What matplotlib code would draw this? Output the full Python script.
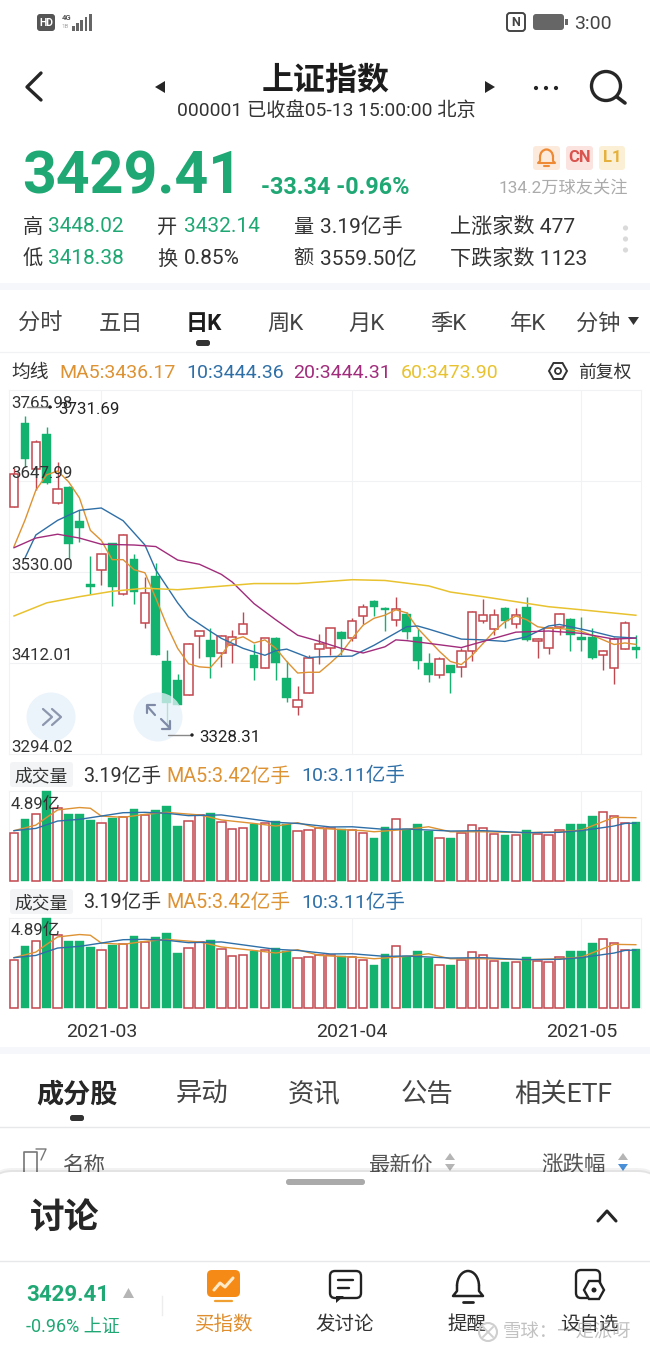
import matplotlib
matplotlib.use('Agg')
import matplotlib.pyplot as plt
from matplotlib.patches import Rectangle, Circle, FancyBboxPatch, Polygon, Arc

plt.rcParams['font.family'] = ['Roboto', 'Noto Sans CJK SC', 'DejaVu Sans']

opens = [3614,3723,3664,3709,3619,3640,3596,3515,3532,3567,3501,3547,3464,3525,3415,3390,3370,3447,3442,3425,
         3435,3450,3423,3406,3445,3393,3355,3373,3430,3432,3452,3445,3473,3492,3483,3468,3475,3446,3412,3396,
         3409,3407,3428,3467,3456,3483,3463,3484,3440,3432,3459,3469,3446,3446,3423,3406,3430,3432.14]
highs = [3665,3731.69,3701,3718,3673,3641,3610,3551,3553,3568,3579,3553,3524,3542,3429,3398,3438,3454,3457,3448,
         3455,3478,3437,3445,3446,3414,3382,3423,3450,3458,3453,3471,3489,3494,3484,3497,3478,3456,3425,3420,
         3410,3432,3479,3495,3482,3485,3483,3498,3444,3458,3477,3470,3472,3458,3429,3446,3467,3448.02]
lows = [3614,3666,3636,3644,3618,3548,3569,3501,3513,3486,3500,3488,3458,3422,3328.31,3357,3370,3418,3393,3407,
        3412,3449,3390,3405,3390,3362,3345,3373,3411,3423,3422,3440,3463,3473,3454,3460,3443,3404,3388,3393,
        3373,3394,3415,3464,3448,3457,3457,3440,3418,3424,3448,3427,3427,3417,3403,3385,3430,3418.38]
closes = [3657,3677,3698,3645,3638,3566,3587,3510,3553,3510,3578,3504,3503,3423,3360,3358,3437,3453,3420,3447,
          3446,3463,3405,3444,3412,3367,3364,3419,3436,3457,3443,3467,3485,3484,3481,3482,3452,3414,3396,3417,
          3399,3427,3478,3474,3474,3466,3474,3442,3443,3457,3476,3448,3442,3419,3428,3443,3464,3429.41]
volumes = [2.57,3.37,3.60,4.89,3.97,3.60,3.64,3.30,3.15,3.39,3.48,3.91,3.55,3.84,4.06,2.97,3.24,3.57,3.66,3.17,
           2.79,2.84,3.08,3.11,3.22,3.08,2.68,2.73,2.84,2.88,2.79,2.73,2.61,2.32,2.93,3.33,2.81,3.08,2.68,2.30,
           2.30,2.59,3.02,2.84,2.54,2.48,2.48,2.73,2.54,2.46,2.75,3.10,3.08,3.51,3.75,3.51,3.11,3.19]
ma5 = [3563,3597,3636,3656,3661,3647,3626,3584,3571,3546,3546,3533,3529,3496,3461,3431,3411,3407,3406,3422,
       3442,3446,3438,3442,3431,3414,3399,3400,3400,3412,3425,3444,3461,3470,3474,3481,3477,3457,3442,3427,
       3414,3410,3422,3437.5,3453,3465.5,3473,3468,3459,3457,3457,3455,3453,3448,3442,3436,3438,3436.17]
ma10_i = [1,2,4,6,8,10,12,13,15,16,18,19,21,23,24,25,27,28,31,33,36,37,38,41,43,45,47,49,50,53,55,57]
ma10 = [3548,3578,3597,3610,3613,3596.5,3565,3532.6,3490,3472,3453,3444,3431,3422,3428,3430,3419,3420,3421,3435,
        3459,3460,3456,3443,3442,3440,3446,3460,3462,3453,3446,3444.36]
ma20_i = [0,2,4,6,8,11,13,15,17,19,20,22,24,26,28,30,32,34,35,36,38,41,43,46,49,52,55,57]
ma20 = [3561.5,3574,3579,3574,3566,3565,3563,3545.5,3540,3527,3517,3489,3468,3448,3440,3431,3425,3433,3442,3441,
        3437.5,3432,3440,3452,3453.5,3450.5,3443,3444.31]
ma60_i = [0,3,6,9,12,15,18,22,26,31,34,38,40,43,46,49,52,57]
ma60 = [3473,3490,3498,3505,3509,3507,3510.5,3515,3515,3520,3519,3512,3504,3498,3491.5,3485,3481,3473.9]
vol_ma5_i = [0,2,3,4,6,7,8,10,12,14,15,17,19,22,24,26,28,32,33,36,38,40,43,47,50,52,54,55,57]
vol_ma5 = [2.72,3.02,3.44,3.84,3.97,3.93,3.51,3.44,3.60,3.71,3.66,3.57,3.30,3.11,2.97,3.15,2.84,2.72,2.66,2.79,
           2.93,2.66,2.66,2.61,2.66,2.75,3.21,3.44,3.42]
vol_ma10_i = [0,2,4,6,8,10,12,14,16,19,22,24,26,29,31,34,36,40,43,47,50,52,55,56,57]
vol_ma10 = [2.72,2.84,3.24,3.33,3.51,3.69,3.71,3.66,3.53,3.57,3.33,3.17,3.11,2.92,2.93,2.79,2.81,2.70,2.72,2.61,
            2.63,2.72,2.97,3.11,3.13]
price_ticks = [3412.01, 3530.00, 3647.99]
price_labels = ['3765.98', '3647.99', '3530.00', '3412.01', '3294.02']
date_idx = [8, 31, 52]
date_labels = ['2021-03', '2021-04', '2021-05']

GREEN = '#14B26F'; RED = '#C2474E'; GRID = '#F0F2F4'; DARK = '#262626'; TXTGREEN = '#1FA774'
ORANGE = '#DD9233'; BLUE = '#2F6FA7'; PURPLE = '#A12C7B'; YELLOW = '#E8C22F'
W, H = 650, 1351
fig = plt.figure(figsize=(6.5, 13.51), dpi=100, facecolor='white')
XLIM = (-0.458, 57.47)

def axes_px(x0, x1, ytop, ybot, z=1):
    return fig.add_axes([x0 / W, 1 - ybot / H, (x1 - x0) / W, (ybot - ytop) / H], zorder=z)

def style(ax):
    ax.set_xlim(*XLIM)
    ax.tick_params(left=False, bottom=False, labelleft=False, labelbottom=False)
    for s in ax.spines.values():
        s.set_color(GRID); s.set_linewidth(0.8)
    ax.set_axisbelow(True)
    ax.set_xticks(date_idx)
    ax.grid(axis='x', color=GRID, lw=0.8)

n = len(closes)
xs = list(range(n))
up = [c >= o for o, c in zip(opens, closes)]
# main candle chart
ax = axes_px(9, 641, 390, 754)
style(ax)
ax.set_ylim(3294.02, 3765.98)
ax.set_yticks(price_ticks)
ax.grid(axis='y', color=GRID, lw=0.8)
for i in xs:
    col = RED if up[i] else GREEN
    ax.plot([i, i], [lows[i], highs[i]], color=col, lw=1.0, solid_capstyle='butt', zorder=2)
    b, t = min(opens[i], closes[i]), max(opens[i], closes[i])
    ax.bar(i, t - b, bottom=b, width=0.8 if not up[i] else 0.78, facecolor='white' if up[i] else GREEN,
           edgecolor=col, linewidth=1.1 if up[i] else 0.3, zorder=3)
ax.plot(xs, ma5, color=ORANGE, lw=1.0, zorder=4)
ax.plot(ma10_i, ma10, color=BLUE, lw=1.0, zorder=4)
ax.plot(ma20_i, ma20, color=PURPLE, lw=1.0, zorder=4)
ax.plot(ma60_i, ma60, color=YELLOW, lw=1.1, zorder=4)

# two identical volume panels
for ytop, ybot in [(790.5, 881), (917.5, 1008)]:
    av = axes_px(9, 641, ytop, ybot)
    style(av)
    av.spines['bottom'].set_visible(False)
    av.set_ylim(0, 4.89)
    for i in xs:
        av.bar(i, volumes[i], width=0.8 if not up[i] else 0.78, facecolor='white' if up[i] else GREEN,
               edgecolor=RED if up[i] else GREEN, linewidth=1.1 if up[i] else 0.3, zorder=3, clip_on=False)
    av.plot(vol_ma5_i, vol_ma5, color=ORANGE, lw=1.0, zorder=4)
    av.plot(vol_ma10_i, vol_ma10, color=BLUE, lw=1.0, zorder=4)

# overlay: every piece of app chrome, in screen pixels
ui = fig.add_axes([0, 0, 1, 1], zorder=5)
ui.set_xlim(0, W); ui.set_ylim(H, 0); ui.axis('off'); ui.patch.set_alpha(0)

def T(x, y, s, size=12, color=DARK, ha='left', weight='normal', z=6, **kw):
    return ui.text(x, y + 2, s, fontsize=size, color=color, ha=ha, va='center', fontweight=weight, zorder=z, **kw)

def box(x0, y0, x1, y1, fc, r=3, z=3, ec='none', lw=0):
    ui.add_patch(FancyBboxPatch((x0 + r, y0 + r), x1 - x0 - 2 * r, y1 - y0 - 2 * r,
                                boxstyle=f'round,pad={r},rounding_size={r}', fc=fc, ec=ec, lw=lw, zorder=z))

def L(xv, yv, c=DARK, lw=2, z=6, **kw):
    ui.plot(xv, yv, color=c, lw=lw, zorder=z, solid_capstyle='round', solid_joinstyle='round', **kw)

def tri(pts, c, z=6):
    ui.add_patch(Polygon(pts, closed=True, fc=c, ec='none', zorder=z))

# status bar
box(37, 14, 55, 31, '#555555', r=3)
T(46, 20.5, 'HD', 7.5, 'white', 'center', 'bold')
T(62, 15, '4G', 5.5, '#555555', weight='bold')
T(62, 25, '1B', 4.5, '#AAAAAA')
for k, h in enumerate([5, 8, 11, 14, 17]):
    ui.add_patch(Rectangle((72 + k * 4.2, 31 - h), 2.8, h, fc='#666666', zorder=4))
box(507, 13, 525, 31, 'white', r=3, ec='#444444', lw=1.4)
T(516, 20, 'N', 9, '#444444', 'center', 'bold')
box(533, 14, 564, 30, '#666666', r=3)
ui.add_patch(Rectangle((565, 19), 2.5, 6, fc='#666666', zorder=4))
T(574, 22, '3:00', 14, '#444444')

# header
L([41, 27, 41], [73, 87, 100], DARK, 2.4)
tri([(155, 87), (165, 81), (165, 93)], DARK)
tri([(495, 87), (485, 81), (485, 93)], DARK)
T(326, 79, '上证指数', 23, '#1c1c1c', 'center', 'bold')
T(326, 109, '000001 已收盘05-13 15:00:00 北京', 13.9, '#333333', 'center')
for dx in (536, 546, 556):
    ui.add_patch(Circle((dx, 88), 2.1, fc=DARK, zorder=6))
ui.add_patch(Circle((606, 86), 14.5, fc='none', ec=DARK, lw=2.4, zorder=6))
L([617, 625], [97, 103], DARK, 2.6)

# quote block
T(22, 175, '3429.41', 42.5, TXTGREEN, weight='bold')
T(261, 186, '-33.34 -0.96%', 16.8, TXTGREEN, weight='bold')
box(533, 146, 560, 170, '#FCEBDD')
ui.add_patch(Arc((546.5, 157), 13, 15, theta1=180, theta2=360, ec='#EE8A35', lw=1.6, zorder=6))
L([540, 540, 538, 555, 553, 553], [157, 161, 163, 163, 161, 157], '#EE8A35', 1.5)
L([544, 549], [166, 166], '#EE8A35', 1.5)
box(566, 146, 593, 170, '#FBE3E0')
T(579.5, 156, 'CN', 12, '#D9534F', 'center', 'bold')
box(599, 146, 625, 170, '#FBF0D5')
T(612, 156, 'L1', 12, '#E5B13C', 'center', 'bold')
T(628, 186.5, '134.2万球友关注', 12.4, '#ABABAB', 'right')
for y, rows in [(225, [(23, '高'), (293, '量'), (157, '开')]), (257, [(23, '低'), (157, '换'), (293, '额')])]:
    for x, s in rows:
        T(x, y, s, 14.5, '#333333')
T(48, 225, '3448.02', 15, TXTGREEN); T(184, 225, '3432.14', 15, TXTGREEN)
T(48, 257, '3418.38', 15, TXTGREEN)
T(184, 257, '0.85%', 15, '#333333')
T(320, 225, '3.19亿手', 15, '#333333'); T(320, 257, '3559.50亿', 15, '#333333')
T(450, 225, '上涨家数 477', 15.2, '#333333'); T(450, 257, '下跌家数 1123', 15.2, '#333333')
for y in (228, 239, 250):
    ui.add_patch(Circle((625.5, y), 2.6, fc='#DADADA', zorder=5))
ui.add_patch(Rectangle((0, 283), W, 7, fc='#F5F7FA', zorder=2))

# period tabs
for x, s in [(40, '分时'), (121, '五日'), (285, '周K'), (366, '月K'), (448, '季K'), (528, '年K'), (598, '分钟')]:
    T(x, 322, s, 16, '#444444', 'center')
T(204, 322, '日K', 16, '#1c1c1c', 'center', 'bold')
tri([(628, 317), (639, 317), (633.5, 325)], '#333333')
box(196, 340, 210, 346, '#333333', r=2.5)
ui.plot([0, W], [351.5, 351.5], color=GRID, lw=0.9, zorder=2)

# MA legend
T(11, 371, '均线', 13.5, '#333333')
T(59, 371, 'MA5:3436.17', 14, ORANGE)
T(186, 371, '10:3444.36', 14, BLUE)
T(293, 371, '20:3444.31', 14, PURPLE)
T(401, 371, '60:3473.90', 14, YELLOW)
ui.add_patch(Polygon([(549, 371), (553.5, 363), (562.5, 363), (567, 371), (562.5, 379), (553.5, 379)], closed=True,
                     fc='none', ec='#333333', lw=1.4, zorder=6))
ui.add_patch(Circle((558, 371), 3, fc='none', ec='#333333', lw=1.3, zorder=6))
T(578, 371, '前复权', 12.8, '#333333')

# value labels on main chart
for y, s in zip([401, 472, 563, 654, 745], price_labels):
    T(11, y, s, 12.2, '#333333')
L([27, 48], [407, 407], '#888888', 1)
ui.add_patch(Circle((50, 407), 1.7, fc='#222222', zorder=6))
T(58, 408, '3731.69', 12.2, '#222222')
L([168, 190], [735, 735], '#888888', 1)
ui.add_patch(Circle((192, 735), 1.7, fc='#222222', zorder=6))
T(199, 736, '3328.31', 12.2, '#222222')

# floating buttons
ui.add_patch(Circle((51, 717), 24.5, fc='#E6F1FA', alpha=0.8, ec='none', zorder=5))
L([43, 52, 43], [709, 717, 725], '#8C97AE', 1.6)
L([52, 61, 52], [709, 717, 725], '#8C97AE', 1.6)
ui.add_patch(Circle((158, 717), 24.5, fc='#E6F1FA', alpha=0.75, ec='none', zorder=5))
L([147, 155], [706, 715], '#7F8BA6', 1.6); L([147, 147, 155], [713, 705, 705], '#7F8BA6', 1.6)
L([161, 170], [719, 728], '#7F8BA6', 1.6); L([162, 170, 170], [729, 729, 721], '#7F8BA6', 1.6)

# volume legends
for dy in (0, 127):
    box(10, 762 + dy, 73, 787 + dy, '#F2F4F6', r=3)
    T(41.5, 774.5 + dy, '成交量', 12.8, '#333333', 'center')
    T(83, 774 + dy, '3.19亿手', 14.2, '#333333')
    T(166, 774 + dy, 'MA5:3.42亿手', 14.2, ORANGE)
    T(301, 774 + dy, '10:3.11亿手', 14, BLUE)
    T(11, 802 + dy, '4.89亿', 12.2, '#333333')

for i, s in zip(date_idx, date_labels):
    T(14 + 10.91 * i, 1030, s, 14, '#333333', 'center')

ui.add_patch(Rectangle((0, 1047), W, 7, fc='#F5F7FA', zorder=2))

# lower tabs
T(77, 1093, '成分股', 19.5, '#262626', 'center', 'bold')
for x, s in [(202, '异动'), (314, '资讯'), (427, '公告'), (563, '相关ETF')]:
    T(x, 1093, s, 19, '#444444', 'center')
box(70, 1115, 84, 1121, '#333333', r=2.5)
ui.plot([0, W], [1126.5, 1126.5], color='#E6E8EA', lw=1, zorder=2)
L([24, 24, 37, 37], [1172, 1152, 1152, 1172], '#777777', 1.2)
L([36, 46, 41], [1149, 1149, 1160], '#777777', 1.0)
T(62, 1164, '名称', 15.5, '#555555')
T(368, 1164, '最新价', 15.5, '#555555')
T(541, 1164, '涨跌幅', 15.5, '#555555')
for x, c in [(450, '#B5B5B5'), (623, '#4A90D9')]:
    tri([(x - 5, 1160), (x + 5, 1160), (x, 1153)], '#B5B5B5')
    tri([(x - 5, 1164), (x + 5, 1164), (x, 1171)], c)

# bottom sheet
for k, a in [(4, 0.05), (2, 0.06)]:
    box(-10, 1172 - k, 660, 1400, '#000000', r=22, z=7)
    ui.patches[-1].set_alpha(a)
box(-10, 1172, 660, 1400, 'white', r=22, z=8)
box(286, 1179, 365, 1185, '#AAAAAA', r=2.8, z=9)
T(30, 1216, '讨论', 25, '#262626', weight='bold', z=9)
L([598, 607, 616], [1221, 1211, 1221], '#262626', 2.2, z=9)
ui.plot([0, W], [1260.5, 1260.5], color='#E6E8EA', lw=1, zorder=9)
T(26, 1293, '3429.41', 16, TXTGREEN, weight='bold', z=9)
tri([(123, 1298), (134, 1298), (128.5, 1288)], '#B5B5B5', z=9)
T(26, 1325, '-0.96% 上证', 13, TXTGREEN, z=9)
ui.plot([162, 162], [1296, 1315], color='#EDEDED', lw=1, zorder=9)

# bottom icons
box(207, 1270, 240, 1297, '#F58A17', r=5, z=9)
L([214, 220, 225, 233], [1290, 1283, 1287, 1278], '#FFE9C7', 2.2, z=10)
L([215, 232], [1301, 1301], '#F0A030', 1.6, z=9)
box(330, 1271, 361, 1298, 'white', r=5, z=9, ec='#222222', lw=1.7)
L([338, 353], [1280, 1280], '#222222', 1.7, z=10)
L([338, 349], [1288, 1288], '#222222', 1.7, z=10)
tri([(336, 1296), (344, 1296), (336, 1303)], '#222222', z=10)
ui.add_patch(Arc((468, 1286), 22, 30, theta1=180, theta2=360, ec='#222222', lw=1.8, zorder=10))
L([457, 457, 453, 483, 479, 479], [1286, 1291, 1296, 1296, 1291, 1286], '#222222', 1.8, z=10)
L([463, 473], [1302, 1302], '#222222', 2, z=10)
box(576, 1270, 600, 1298, 'white', r=5, z=9, ec='#222222', lw=1.7)
ui.add_patch(Polygon([(584, 1290), (589, 1281), (599, 1281), (604, 1290), (599, 1299), (589, 1299)], closed=True,
                     fc='white', ec='#222222', lw=1.7, zorder=10))
ui.add_patch(Circle((594, 1290), 2.5, fc='#222222', zorder=11))
T(224, 1323, '买指数', 14, '#E08E2D', 'center', z=9)
T(345, 1323, '发讨论', 14, '#333333', 'center', z=9)
T(467, 1323, '提醒', 14, '#333333', 'center', z=9)
T(589, 1323, '设自选', 14, '#333333', 'center', z=9)
# watermark
ui.add_patch(Circle((488, 1332), 9, fc='none', ec='#CFCFCF', lw=1.5, zorder=11))
L([483, 493], [1327, 1337], '#CFCFCF', 1.4, z=11)
L([493, 483], [1327, 1337], '#CFCFCF', 1.4, z=11)
T(503, 1330, '雪球：一足派呀', 13.2, '#999999', alpha=0.6, z=11)

fig.savefig('out.png', dpi=100)
